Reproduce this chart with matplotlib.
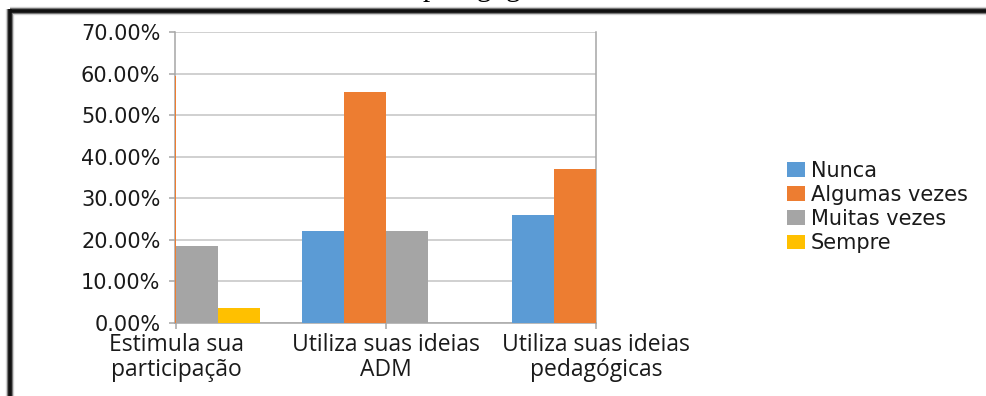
import numpy as np
import matplotlib
matplotlib.use("Agg")
import matplotlib.pyplot as plt
from matplotlib.lines import Line2D
from matplotlib.ticker import PercentFormatter

W, H = 987, 396

categories = ["Estimula sua\nparticipação",
              "Utiliza suas ideias\nADM",
              "Utiliza suas ideias\npedagógicas"]
series = ["Nunca", "Algumas vezes", "Muitas vezes", "Sempre"]
nunca = [18.5, 22.2, 25.9]
algumas = [59.3, 55.6, 37.0]
muitas = [18.5, 22.2, 29.6]
sempre = [3.7, 0.0, 7.4]
colors = ["#5B9BD5", "#ED7D31", "#A5A5A5", "#FFC000"]
yticks = [0, 10, 20, 30, 40, 50, 60, 70]


def px(x, y):
    return x / W, 1 - y / H


fig = plt.figure(figsize=(W / 100, H / 100), dpi=100)
fig.patch.set_facecolor("white")

x0, y0 = px(175, 323)
x1, y1 = px(596, 32)
ax = fig.add_axes([x0, y0, x1 - x0, y1 - y0])

x = np.arange(len(categories))
width = 0.2
for i, (name, vals) in enumerate(zip(series, [nunca, algumas, muitas, sempre])):
    ax.bar(x - 0.3 + i * width, vals, width, color=colors[i], label=name,
           zorder=3)

ax.set_xlim(-0.005, 2.0)
ax.set_ylim(0, 70)
ax.set_yticks(yticks)
ax.yaxis.set_major_formatter(PercentFormatter(decimals=2))
ax.grid(axis="y", color="#C4C4C4", linewidth=1.1, zorder=0)
ax.set_xticks(x)
ax.set_xticklabels(categories, family="Open Sans", fontsize=16.5,
                   color="#1A1A1A", linespacing=1.05)
for lab in ax.get_yticklabels():
    lab.set_family("DejaVu Sans")
    lab.set_fontsize(15)
    lab.set_color("#1A1A1A")

for side in ["left", "right", "bottom"]:
    ax.spines[side].set_color("#A6A6A6")
    ax.spines[side].set_linewidth(1.1)
ax.spines["top"].set_visible(False)
ax.tick_params(axis="both", color="#A6A6A6", length=4.5, width=1.1)
ax.tick_params(axis="y", pad=6)
ax.tick_params(axis="x", pad=3)

leg = fig.legend(loc="center left", bbox_to_anchor=px(787, 207),
                 frameon=False, borderpad=0, borderaxespad=0,
                 handlelength=0.85, handleheight=0.7, handletextpad=0.3,
                 labelspacing=0.2,
                 prop={"family": "DejaVu Sans", "size": 15})
for t in leg.get_texts():
    t.set_color("#1A1A1A")

# heading line above the frame, only its lower edge falls inside
fig.text(*px(423, -4), "pedagógica", family="Liberation Serif", fontsize=21,
         ha="left", va="baseline", color="black")

# framed border with soft shadow (top and left edges)
for lw, col in [(6, "#D0D0D0"), (4.2, "#707070"), (2.6, "#111111")]:
    fig.add_artist(Line2D([px(10, 0)[0], 1.02], [px(0, 11)[1]] * 2,
                          transform=fig.transFigure, color=col, linewidth=lw,
                          solid_capstyle="butt"))
    fig.add_artist(Line2D([px(10, 0)[0]] * 2, [px(0, 9)[1], -0.02],
                          transform=fig.transFigure, color=col, linewidth=lw,
                          solid_capstyle="butt"))

fig.savefig("out.png", dpi=100)
